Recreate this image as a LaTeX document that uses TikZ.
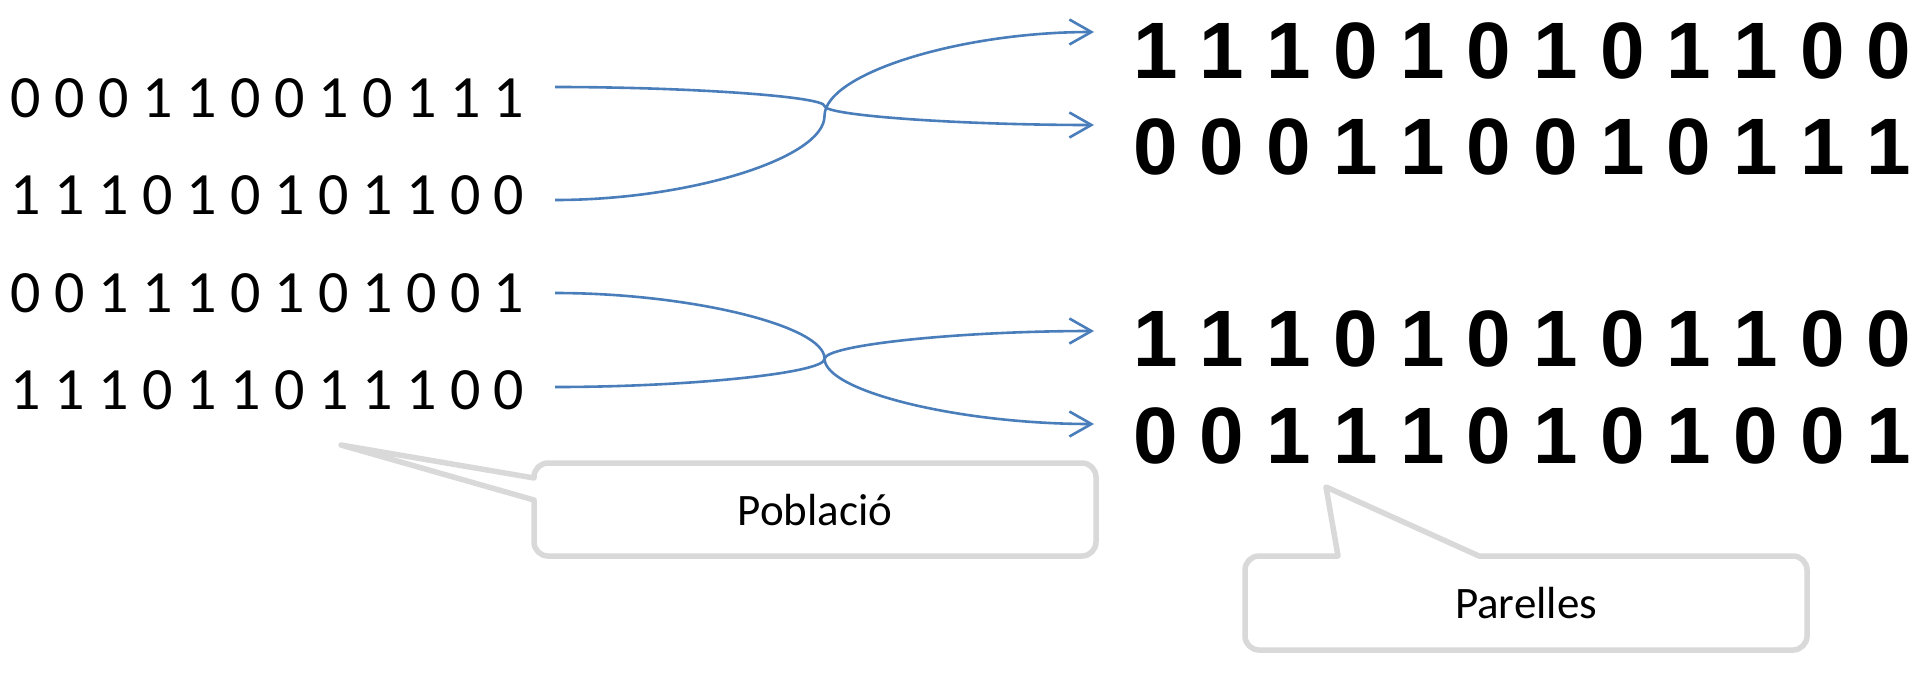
\documentclass[tikz,border=0pt]{standalone}
\usepackage{fontspec}
\setmainfont{Carlito}
\newfontfamily\arialfont{Liberation Sans}
\usetikzlibrary{arrows.meta}
\definecolor{connblue}{HTML}{4A7EBB}
\definecolor{callgray}{HTML}{D9D9D9}
\begin{document}
\begin{tikzpicture}[x=1pt,y=-1pt,
  poptext/.style={anchor=base west,inner sep=0pt,font=\fontsize{60}{72}\selectfont},
  pairtext/.style={anchor=base west,inner sep=0pt,font=\arialfont\bfseries\fontsize{80}{96}\selectfont},
  calltext/.style={anchor=base,inner sep=0pt,font=\fontsize{45}{54}\selectfont},
  conn/.style={draw=connblue,line width=2.6pt,-{Straight Barb[length=22pt,width=25pt]}},
  callout/.style={draw=callgray,line width=5.5pt,fill=white,line join=round}]
\useasboundingbox (0,0) rectangle (1924,686);

% population
\node[poptext] (l1) at (10,117) {0 0 0 1 1 0 0 1 0 1 1 1};
\node[poptext] (l2) at (10,214) {1 1 1 0 1 0 1 0 1 1 0 0};
\node[poptext] (l3) at (10,312) {0 0 1 1 1 0 1 0 1 0 0 1};
\node[poptext] (l4) at (10,409) {1 1 1 0 1 1 0 1 1 1 0 0};

% pairs
\node[pairtext] (r1) at (1133,78) {1 1 1 0 1 0 1 0 1 1 0 0};
\node[pairtext] (r2) at (1133,174) {0 0 0 1 1 0 0 1 0 1 1 1};
\node[pairtext] (r3) at (1133,366) {1 1 1 0 1 0 1 0 1 1 0 0};
\node[pairtext] (r4) at (1133,463) {0 0 1 1 1 0 1 0 1 0 0 1};

% connector ends
\coordinate (s1) at (555,87);
\coordinate (s2) at (555,200);
\coordinate (s3) at (555,293);
\coordinate (s4) at (555,387);
\coordinate (t1) at (1094,32);
\coordinate (t2) at (1094,125);
\coordinate (t3) at (1094,331);
\coordinate (t4) at (1094,424);

\draw[conn] (s1) .. controls (689.75,87) and (824.5,96.5) .. (824.5,106)
                 .. controls (824.5,115.5) and (959.25,125) .. (t2);
\draw[conn] (s2) .. controls (689.75,200) and (824.5,158) .. (824.5,116)
                 .. controls (824.5,74) and (959.25,32) .. (t1);
\draw[conn] (s3) .. controls (689.75,293) and (824.5,325.75) .. (824.5,358.5)
                 .. controls (824.5,391.25) and (959.25,424) .. (t4);
\draw[conn] (s4) .. controls (689.75,387) and (824.5,373) .. (824.5,359)
                 .. controls (824.5,345) and (959.25,331) .. (t3);

% callout: Poblacio
\draw[callout] (534,478) -- (341,445) -- (534,500) -- (534,542)
  .. controls (534,549.7) and (540.3,556) .. (548,556) -- (1082,556)
  .. controls (1089.7,556) and (1096,549.7) .. (1096,542) -- (1096,477)
  .. controls (1096,469.3) and (1089.7,463) .. (1082,463) -- (548,463)
  .. controls (540.3,463) and (534,469.3) .. (534,477) -- cycle;
\node[calltext] (pob) at (815,525) {Població};

% callout: Parelles
\draw[callout] (1338,556) -- (1326,487) -- (1479,556) -- (1793,556)
  .. controls (1800.7,556) and (1807,562.3) .. (1807,570) -- (1807,636)
  .. controls (1807,643.7) and (1800.7,650) .. (1793,650) -- (1259,650)
  .. controls (1251.3,650) and (1245,643.7) .. (1245,636) -- (1245,570)
  .. controls (1245,562.3) and (1251.3,556) .. (1259,556) -- cycle;
\node[calltext] (par) at (1526,618) {Parelles};
\end{tikzpicture}
\end{document}
